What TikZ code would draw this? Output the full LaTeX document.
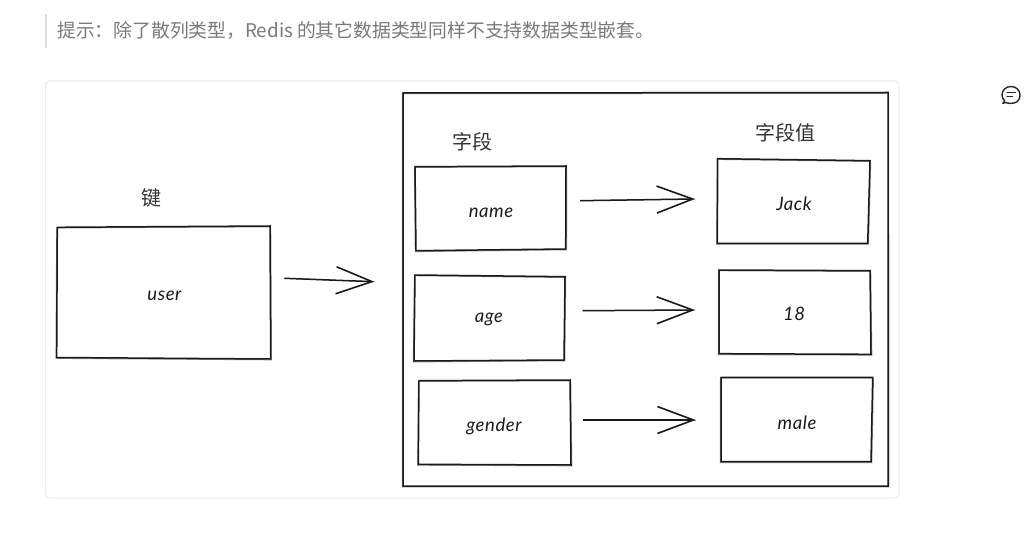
\documentclass[tikz,border=0pt]{standalone}
\usepackage{fontspec}
\newfontfamily\cjk{Noto Sans CJK SC}
\newfontfamily\handfont[LetterSpace=3]{Lato Italic}
\usetikzlibrary{arrows.meta,fit}
\definecolor{ink}{HTML}{1A1A1A}
\tikzset{
  x=1pt,y=-1pt,
  sk/.style={draw=ink,line width=1.5pt,line join=miter},
  skb/.style={draw=ink,line width=1pt,opacity=.5},
  anchorbox/.style={inner sep=0pt,outer sep=0pt,draw=none},
  hand/.style={font=\handfont\fontsize{18.5}{18.5}\selectfont,text=ink,inner sep=0pt,anchor=base},
  captext/.style={font=\cjk\fontsize{20}{20}\selectfont,text=black!80,inner sep=0pt},
  notetext/.style={font=\cjk\fontsize{18.8}{18.8}\selectfont,text=black!52,inner sep=0pt,anchor=west},
  arrowline/.style={draw=ink,line width=1.5pt,-{Straight Barb[length=36pt,width=27pt,line width=1.6pt]}},
  arrowghost/.style={draw=ink,line width=1pt,opacity=.45},
  iconline/.style={draw=black!85,line width=1.4pt,line cap=round,line join=round},
}
% name, TL, TR, BR, BL
\newcommand{\skbox}[5]{%
  \coordinate (#1-a) at #2; \coordinate (#1-b) at #3;
  \coordinate (#1-c) at #4; \coordinate (#1-d) at #5;
  \node[anchorbox,fit=(#1-a)(#1-b)(#1-c)(#1-d)] (#1) {};
  \draw[sk] (#1-a) -- (#1-b) -- (#1-c) -- (#1-d) -- cycle;
  \draw[skb] ([shift={(-.6,.7)}]#1-a) -- ([shift={(.7,.8)}]#1-b) -- ([shift={(.8,.8)}]#1-c) -- ([shift={(-.7,.9)}]#1-d) -- cycle;
}
\newcommand{\skarrow}[4]{%
  \draw[arrowline] ([shift={#2}]#1) -- ([shift={#4}]#3);
  \draw[arrowghost] ([shift={#2}]#1) -- ([shift={#4}]#3);
}
\begin{document}
\begin{tikzpicture}
\useasboundingbox (0,0) rectangle (1027,534);
\fill[white] (0,0) rectangle (1027,534);
% note
\fill[black!13] (45,14) rectangle (47,48);
\node[notetext] (tip) at (57,31) {提示：除了散列类型，Redis 的其它数据类型同样不支持数据类型嵌套。};
% card
\draw[draw=black!8,line width=1pt,rounded corners=4pt] (45.5,81) rectangle (899,498);
% comment icon
\draw[iconline]
  (1005.5,102.5) .. controls (1009,103.6) and (1012,103.6) .. (1014,103)
  .. controls (1018,102) and (1020,99) .. (1020,95)
  .. controls (1020,90) and (1016,86.5) .. (1011,86.5)
  .. controls (1006,86.5) and (1002,90) .. (1002,95)
  .. controls (1002,97.5) and (1003,99.5) .. (1004.5,100.5)
  .. controls (1004.6,101.5) and (1004,102) .. (1002.8,103.4)
  .. controls (1003.6,103.4) and (1004.6,103.2) .. (1005.5,102.5);
\draw[iconline] (1007,92.8) -- (1015.5,92.8);
\draw[iconline] (1007,96.8) -- (1012.5,96.8);
% boxes
\skbox{outer}{(403,93)}{(888,92.5)}{(888,486)}{(403,486)}
\skbox{user}{(57.3,227.3)}{(270,226)}{(270.7,359)}{(56.7,357.5)}
\skbox{name}{(415,166.7)}{(566,166)}{(565.7,249)}{(416,250.7)}
\skbox{age}{(415,275)}{(565,276.7)}{(564,360)}{(414,361)}
\skbox{gender}{(419,380.7)}{(570,380)}{(571,465)}{(418.3,464.3)}
\skbox{jack}{(717.7,158.7)}{(870,160.7)}{(867.7,243.3)}{(717.3,243.3)}
\skbox{eighteen}{(719,270)}{(870,270.7)}{(871,354.3)}{(719,353.7)}
\skbox{male}{(721,377.3)}{(872.7,377.3)}{(871,461.7)}{(721,461.7)}
% labels
\node[captext] (kkey) at (151,198) {键};
\node[captext] (kfield) at (472,142) {字段};
\node[captext] (kvalue) at (785,133) {字段值};
\node[hand] (tuser) at (164.5,301) {user};
\node[hand] (tname) at (491,217.5) {name};
\node[hand] (tage) at (489,323) {age};
\node[hand] (tgender) at (494,431) {gender};
\node[hand] (tjack) at (794,211) {Jack};
\node[hand] (t18) at (794,320) {18};
\node[hand] (tmale) at (797,429) {male};
% connectors
\skarrow{user.east}{(13.6,-14.2)}{outer.west}{(-28.7,-7.55)}
\skarrow{name.east}{(14,-7.65)}{jack.west}{(-22.3,-2)}
\skarrow{age.east}{(17.7,-7.3)}{eighteen.west}{(-24,-2.15)}
\skarrow{gender.east}{(11.7,-2.5)}{male.west}{(-25.3,.5)}
\end{tikzpicture}
\end{document}
